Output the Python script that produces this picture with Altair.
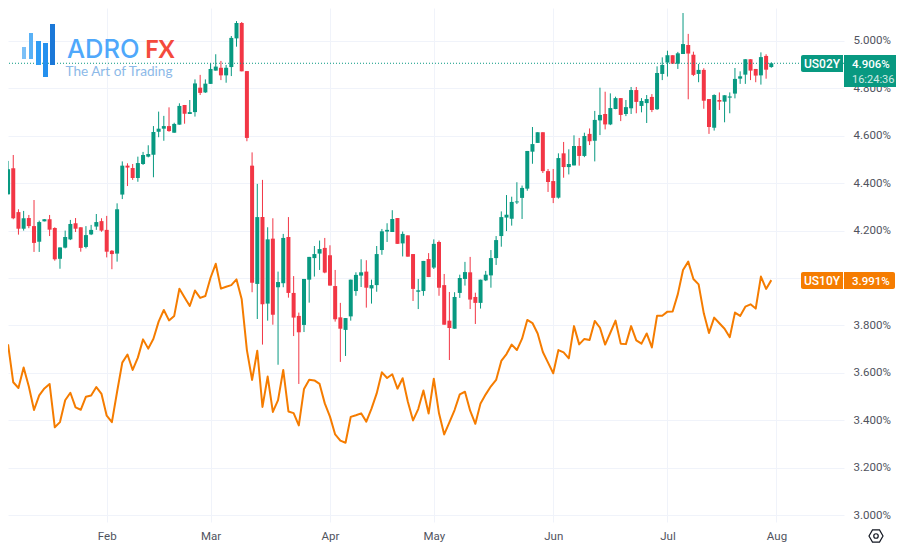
import altair as alt
import pandas as pd

opens = [4.353,4.463,4.278,4.208,4.253,4.219,4.153,4.239,4.248,4.211,
 4.081,4.128,4.163,4.231,4.214,4.131,4.184,4.217,4.240,4.203,
 4.115,4.103,4.352,4.474,4.464,4.422,4.481,4.512,4.520,4.617,
 4.630,4.641,4.613,4.647,4.730,4.692,4.700,4.803,4.783,4.819,
 4.875,4.887,4.855,4.890,5.011,5.076,4.873,4.474,3.975,4.257,
 3.892,4.166,3.961,3.978,4.173,3.937,3.840,3.802,3.993,4.084,
 4.103,4.127,4.096,3.966,3.834,3.781,3.838,3.945,4.010,4.027,
 3.956,3.970,4.118,4.196,4.194,4.253,4.146,4.180,4.101,3.942,
 3.945,4.080,4.044,4.152,3.970,3.820,3.786,3.937,3.996,4.024,
 3.920,3.895,3.990,4.011,4.084,4.177,4.255,4.250,4.319,4.338,
 4.377,4.533,4.570,4.615,4.451,4.409,4.339,4.526,4.468,4.475,
 4.557,4.515,4.608,4.579,4.665,4.692,4.648,4.713,4.759,4.692,
 4.716,4.793,4.726,4.738,4.764,4.712,4.861,4.909,4.940,4.904,
 4.945,4.983,4.942,4.861,4.878,4.755,4.634,4.751,4.744,4.761,
 4.778,4.841,4.858,4.923,4.882,4.855,4.937,4.890]

highs = [4.494,4.519,4.290,4.283,4.266,4.329,4.242,4.248,4.266,4.214,
 4.129,4.200,4.245,4.253,4.214,4.219,4.224,4.270,4.252,4.262,
 4.118,4.315,4.492,4.484,4.481,4.512,4.532,4.560,4.641,4.702,
 4.684,4.720,4.655,4.737,4.730,4.751,4.838,4.857,4.838,4.906,
 4.944,4.916,4.899,5.021,5.084,5.080,4.873,4.530,4.397,4.414,
 4.214,4.252,4.027,4.186,4.257,4.008,3.854,3.996,4.089,4.135,
 4.158,4.169,4.138,4.034,3.895,3.831,3.993,4.024,4.079,4.075,
 3.993,4.135,4.207,4.231,4.286,4.253,4.196,4.180,4.101,3.996,
 4.072,4.105,4.163,4.158,4.017,3.941,3.940,4.014,4.068,4.089,
 3.938,3.993,4.030,4.118,4.177,4.281,4.350,4.343,4.404,4.390,
 4.536,4.637,4.615,4.615,4.460,4.460,4.526,4.574,4.543,4.602,
 4.591,4.613,4.631,4.705,4.803,4.786,4.779,4.765,4.759,4.751,
 4.806,4.806,4.759,4.772,4.776,4.893,4.931,4.959,4.940,4.954,
 5.118,5.030,4.955,4.903,4.885,4.755,4.775,4.783,4.771,4.783,
 4.886,4.872,4.923,4.923,4.882,4.952,4.944,4.910]

lows = [4.353,4.248,4.183,4.200,4.210,4.110,4.110,4.239,4.177,4.073,
 4.039,4.125,4.160,4.194,4.111,4.125,4.181,4.203,4.195,4.087,
 4.037,4.069,4.333,4.388,4.414,4.406,4.477,4.509,4.425,4.594,
 4.579,4.617,4.613,4.647,4.651,4.692,4.681,4.772,4.781,4.819,
 4.875,4.835,4.824,4.852,4.976,4.872,4.577,3.940,3.827,3.719,
 3.820,3.803,3.634,3.961,3.917,3.755,3.553,3.772,3.896,4.006,
 4.034,4.020,3.968,3.816,3.646,3.671,3.820,3.925,3.962,3.875,
 3.892,3.942,4.098,4.152,4.194,4.144,4.091,4.090,3.903,3.869,
 3.925,4.004,4.038,3.925,3.803,3.654,3.786,3.916,3.968,3.869,
 3.806,3.871,3.987,3.959,4.055,4.132,4.198,4.221,4.312,4.249,
 4.368,4.482,4.570,4.443,4.363,4.316,4.335,4.423,4.437,4.475,
 4.474,4.510,4.561,4.492,4.603,4.627,4.645,4.712,4.662,4.683,
 4.692,4.695,4.699,4.654,4.700,4.709,4.835,4.850,4.904,4.882,
 4.945,4.754,4.852,4.826,4.714,4.608,4.622,4.709,4.657,4.695,
 4.758,4.819,4.819,4.835,4.826,4.816,4.841,4.887]

closes = [4.459,4.252,4.208,4.252,4.219,4.148,4.236,4.248,4.204,4.079,
 4.129,4.173,4.228,4.208,4.127,4.181,4.203,4.236,4.200,4.111,
 4.101,4.290,4.474,4.466,4.422,4.485,4.519,4.523,4.616,4.630,
 4.641,4.620,4.650,4.726,4.693,4.700,4.821,4.781,4.820,4.882,
 4.892,4.855,4.887,5.013,5.076,4.872,4.591,3.980,4.257,3.889,
 4.163,3.845,3.983,4.169,3.937,3.833,3.771,3.996,4.089,4.101,
 4.122,4.023,3.968,3.826,3.786,3.831,3.993,4.013,4.024,3.959,
 3.970,4.101,4.197,4.203,4.249,4.144,4.186,4.090,3.954,3.948,
 4.072,4.004,4.144,3.959,3.803,3.789,3.920,4.000,4.025,3.909,
 3.895,3.993,4.014,4.084,4.160,4.257,4.267,4.321,4.323,4.380,
 4.536,4.565,4.615,4.451,4.405,4.338,4.506,4.468,4.481,4.557,
 4.515,4.599,4.577,4.667,4.688,4.648,4.717,4.759,4.688,4.721,
 4.793,4.743,4.747,4.755,4.709,4.865,4.899,4.940,4.904,4.948,
 4.987,4.947,4.857,4.878,4.748,4.637,4.772,4.744,4.771,4.766,
 4.840,4.851,4.923,4.875,4.854,4.932,4.879,4.906]

us10y = [3.720,3.560,3.536,3.622,3.542,3.443,3.505,3.534,3.553,3.370,
 3.392,3.484,3.516,3.454,3.444,3.499,3.504,3.540,3.511,3.419,
 3.392,3.520,3.643,3.677,3.612,3.664,3.741,3.702,3.744,3.816,
 3.865,3.821,3.840,3.955,3.918,3.882,3.947,3.916,3.924,4.001,
 4.060,3.955,3.963,3.970,3.994,3.910,3.696,3.570,3.693,3.456,
 3.584,3.435,3.485,3.612,3.437,3.430,3.378,3.532,3.571,3.568,
 3.553,3.471,3.415,3.340,3.314,3.305,3.414,3.421,3.429,3.394,
 3.449,3.513,3.602,3.578,3.594,3.533,3.577,3.478,3.399,3.447,
 3.525,3.428,3.575,3.429,3.340,3.391,3.443,3.509,3.520,3.440,
 3.385,3.471,3.509,3.543,3.570,3.650,3.679,3.719,3.696,3.744,
 3.823,3.810,3.766,3.688,3.643,3.598,3.696,3.686,3.661,3.797,
 3.720,3.743,3.738,3.819,3.790,3.719,3.769,3.820,3.723,3.721,
 3.797,3.737,3.723,3.766,3.707,3.841,3.841,3.858,3.859,3.932,
 4.034,4.069,3.996,3.973,3.851,3.768,3.833,3.809,3.786,3.750,
 3.854,3.840,3.879,3.889,3.871,4.006,3.954,3.991]

month_ticks = [19, 39, 62, 82, 105, 127, 148]
month_labels = ["Feb", "Mar", "Apr", "May", "Jun", "Jul", "Aug"]
price_ticks = [3.0, 3.2, 3.4, 3.6, 3.8, 4.0, 4.2, 4.4, 4.6, 4.8, 5.0]
last_us02y = "4.906%"
last_us10y = "3.991%"
countdown = "16:24:36"

GREEN, RED, ORANGE = "#089981", "#f23645", "#f57c00"
GRID, TEXT = "#f0f3fa", "#50535e"
FONT = "Roboto"
M = 8  # page margin: annotation positions below are given in page pixels

df = pd.DataFrame({"i": range(len(opens)), "open": opens, "high": highs,
                   "low": lows, "close": closes, "us10y": us10y})
df["dir"] = ["up" if c >= o else "down" for o, c in zip(opens, closes)]

label_map = "{" + ",".join(f"{t}:'{l}'" for t, l in zip(month_ticks, month_labels)) + "}"
x_scale = alt.Scale(domain=[0.951, 160.04], nice=False, zero=False)
y_scale = alt.Scale(domain=[2.9705, 5.1392], nice=False, zero=False)
color = alt.Color("dir:N", scale=alt.Scale(domain=["up", "down"], range=[GREEN, RED]), legend=None)

x_axis = alt.Axis(values=month_ticks, labelExpr=f"{label_map}[datum.value]", title=None,
                  domain=False, ticks=False, grid=True, gridColor=GRID, gridWidth=1,
                  labelFont=FONT, labelFontSize=11.5, labelColor=TEXT, labelPadding=8,
                  labelOverlap=False, labelFlush=False)
y_axis = alt.Axis(values=price_ticks, orient="right", title=None,
                  labelExpr="format(datum.value,'.3f')+'%'",
                  domain=False, ticks=False, grid=True, gridColor=GRID, gridWidth=1,
                  labelFont=FONT, labelFontSize=11.5, labelColor=TEXT, labelPadding=9,
                  labelOverlap=False, labelFlush=False)
X = alt.X("i:Q", scale=x_scale, axis=x_axis)

base = alt.Chart(df)
wicks = base.mark_rule(strokeWidth=1).encode(
    x=X, y=alt.Y("low:Q", scale=y_scale, axis=y_axis), y2="high:Q", color=color)
bodies = base.mark_bar(size=4).encode(
    x=X, y=alt.Y("open:Q", scale=y_scale, axis=y_axis), y2="close:Q", color=color)
line = base.mark_line(color=ORANGE, strokeWidth=2, strokeJoin="round").encode(
    x=X, y=alt.Y("us10y:Q", scale=y_scale, axis=y_axis))
price_line = alt.Chart(df.tail(1)).mark_rule(color=GREEN, strokeWidth=1, strokeDash=[1, 2]).encode(
    y=alt.Y("close:Q", scale=y_scale, axis=y_axis))


def box(x0, x1, y0, y1, fill, **kw):
    return alt.Chart().mark_rect(color=fill, **kw).encode(
        x=alt.value(x0 - M), x2=alt.value(x1 - M), y=alt.value(y0 - M), y2=alt.value(y1 - M))


def label(s, x, y, size, fill, align="left", font=FONT, weight="normal", opacity=1.0):
    return alt.Chart().mark_text(text=s, align=align, baseline="alphabetic", font=font, fontSize=size,
                                 fontWeight=weight, color=fill, opacity=opacity).encode(
        x=alt.value(x - M), y=alt.value(y - M))


overlays = [
    # last value tags
    box(801, 843, 55, 72, GREEN, cornerRadiusTopLeft=2, cornerRadiusBottomLeft=2),
    box(844, 903, 55, 87, GREEN, cornerRadiusBottomRight=2, cornerRadiusTopRight=2),
    label("US02Y", 822, 68, 12, "white", align="center", weight=500),
    label(last_us02y, 852, 68, 11.5, "white", weight=500),
    label(countdown, 852, 83, 11, "white", opacity=0.8),
    box(801, 843, 272, 289, ORANGE, cornerRadiusTopLeft=2, cornerRadiusBottomLeft=2),
    box(844, 895, 272, 289, ORANGE, cornerRadiusBottomRight=2, cornerRadiusTopRight=2),
    label("US10Y", 822, 285, 12, "white", align="center", weight=500),
    label(last_us10y, 852, 285, 11.5, "white", weight=500),
    # logo
    box(22, 26, 47, 59, "#7cc0f7"),
    box(29, 33, 33, 59, "#59b1f6"),
    box(36, 41, 41, 65, "#2f9cf4"),
    box(43, 48, 43, 77, "#2490ee"),
    box(50, 55, 24, 65, "#1b78d8"),
    label("ADRO", 67, 58, 25.5, "#4fa8fb", font="Inter", weight=500),
    label("FX", 145, 58, 24, "#f44a3c", font="Lato", weight="bold"),
    label("The Art of Trading", 65.5, 76, 13.6, "#8cb9e8", font="Lato"),
]

gear = [
    alt.Chart().mark_point(shape="M-1,0L-0.5,-0.87L0.5,-0.87L1,0L0.5,0.87L-0.5,0.87Z", size=196,
                           filled=False, color="#131722", strokeWidth=1.2, opacity=1).encode(
        x=alt.value(876 - M), y=alt.value(536 - M)),
    alt.Chart().mark_point(shape="circle", size=20, filled=False, color="#131722",
                           strokeWidth=1.2, opacity=1).encode(
        x=alt.value(876 - M), y=alt.value(536 - M)),
]

chart = alt.layer(wicks, bodies, line, price_line, *overlays, *gear).properties(
    width=836, height=514,
    padding={"left": 0, "top": 0, "right": 52, "bottom": 26},
    autosize=alt.AutoSizeParams(type="none"),
    background="white",
).configure_view(stroke=None)

chart.save("out.html", embed_options={"renderer": "svg", "actions": False})
